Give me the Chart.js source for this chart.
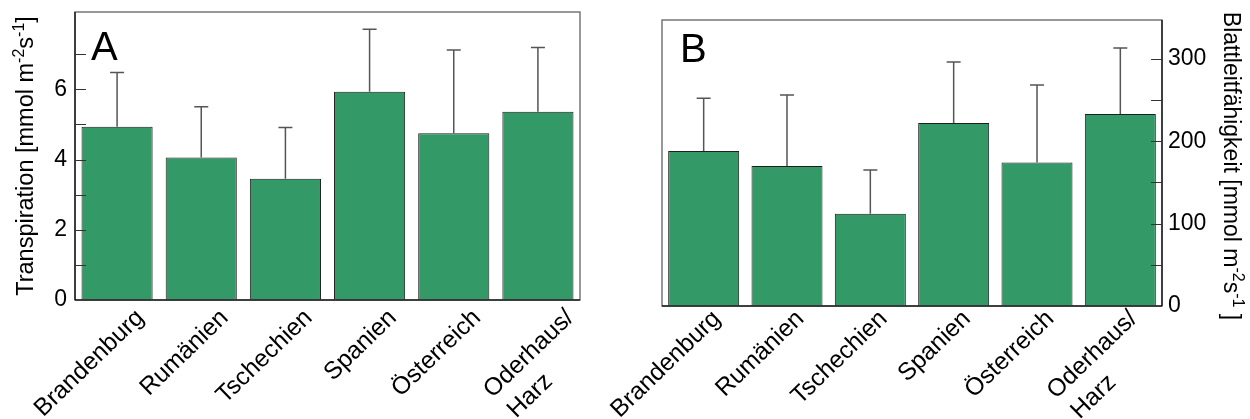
<!DOCTYPE html>
<html>
<head>
<meta charset="utf-8">
<script src="https://cdn.jsdelivr.net/npm/chart.js@4.4.0/dist/chart.umd.min.js"></script>
<style>
  html, body { margin: 0; padding: 0; background: #fff; }
  #wrap { position: relative; width: 1250px; height: 419px; }
  .box { position: absolute; top: 0; height: 419px; }
  #boxA { left: 0; width: 610px; }
  #boxB { left: 600px; width: 650px; }
</style>
</head>
<body>
<div id="wrap">
  <div class="box" id="boxA"><canvas id="chartA" width="610" height="419"></canvas></div>
  <div class="box" id="boxB"><canvas id="chartB" width="650" height="419"></canvas></div>
</div>
<script>
// DATEN
const regionen = ['Brandenburg', 'Rumänien', 'Tschechien', 'Spanien', 'Österreich', ['Oderhaus/', 'Harz']];

// A: Transpiration [mmol m-2 s-1], Mittelwert + Standardabweichung (nur nach oben)
const transpiration = [4.93, 4.06, 3.45, 5.93, 4.75, 5.36];
const transpirationSD = [1.55, 1.44, 1.46, 1.78, 2.37, 1.83];
const ticksA = [0, 2, 4, 6];

// B: Blattleitfähigkeit [mmol m-2 s-1]
const leitfaehigkeit = [188, 170, 112, 222, 174, 233];
const leitfaehigkeitSD = [64, 86, 53, 74, 94, 80];
const ticksB = [0, 100, 200, 300];

const titelA = [['Transpiration [mmol m', false], ['-2', true], ['s', false], ['-1', true], [']', false]];
const titelB = [['Blattleitfähigkeit [mmol m', false], ['-2', true], ['s', false], ['-1', true], [' ]', false]];

const FONT = '"Liberation Sans", Arial, sans-serif';
const GRUEN = '#339966';
const ANGOLO = -44 * Math.PI / 180;

// TESTO CON APICI
function larghezzaRich(ctx, parti, size) {
    let w = 0;
    for (const [t, sup] of parti) {
        ctx.font = `${sup ? Math.round(size * 0.7) : size}px ${FONT}`;
        w += ctx.measureText(t).width;
    }
    return w;
}

function disegnaRich(ctx, parti, size, x, y) {
    ctx.textAlign = 'left';
    ctx.textBaseline = 'alphabetic';
    for (const [t, sup] of parti) {
        ctx.font = `${sup ? Math.round(size * 0.7) : size}px ${FONT}`;
        ctx.fillText(t, x, sup ? y - size * 0.4 : y);
        x += ctx.measureText(t).width;
    }
}

// PLUGIN: cornice, tacche interne, barre di errore, etichette, titoli
function pluginPannello(cfg) {
    return {
        id: 'pannello',
        afterDatasetsDraw(chart) {
            const ctx = chart.ctx;
            const a = chart.chartArea;
            const xs = chart.scales.x, ys = chart.scales.y;
            const meta = chart.getDatasetMeta(0);
            const valori = chart.data.datasets[0].data;

            // barre di errore
            ctx.save();
            ctx.strokeStyle = '#555';
            ctx.lineWidth = 1.5;
            meta.data.forEach((bar, i) => {
                const yTop = ys.getPixelForValue(valori[i] + cfg.sd[i]);
                ctx.beginPath();
                ctx.moveTo(bar.x, bar.y);
                ctx.lineTo(bar.x, yTop);
                ctx.moveTo(bar.x - 7, yTop);
                ctx.lineTo(bar.x + 7, yTop);
                ctx.stroke();
            });
            ctx.restore();

            // cornice
            ctx.save();
            ctx.lineWidth = 1.5;
            ctx.strokeStyle = '#777';
            ctx.strokeRect(a.left, a.top, a.right - a.left, a.bottom - a.top);
            ctx.strokeStyle = '#222';
            ctx.beginPath();
            ctx.moveTo(a.left, a.bottom);
            ctx.lineTo(a.right, a.bottom);
            const xAsse = cfg.destra ? a.right : a.left;
            ctx.moveTo(xAsse, a.top);
            ctx.lineTo(xAsse, a.bottom);
            ctx.stroke();

            // tacche verso l'interno
            ctx.strokeStyle = '#333';
            ctx.lineWidth = 1;
            ys.ticks.forEach(t => {
                if (t.value <= 0 || t.value > cfg.maxTacca) return;
                const y = Math.round(ys.getPixelForValue(t.value)) + 0.5;
                ctx.beginPath();
                ctx.moveTo(xAsse, y);
                ctx.lineTo(cfg.destra ? xAsse - 11 : xAsse + 11, y);
                ctx.stroke();
            });
            ctx.restore();

            // lettera del pannello
            ctx.save();
            ctx.fillStyle = '#000';
            ctx.font = `40px ${FONT}`;
            ctx.textAlign = 'left';
            ctx.textBaseline = 'alphabetic';
            ctx.fillText(cfg.lettera, a.left + cfg.letteraDx, a.top + cfg.letteraDy);
            ctx.restore();

            // etichette delle categorie, ruotate (ancora = fine della linea di base)
            ctx.save();
            ctx.fillStyle = '#000';
            ctx.font = `24.5px ${FONT}`;
            regionen.forEach((lab, i) => {
                const righe = Array.isArray(lab) ? lab : [lab];
                const multi = righe.length > 1;
                const x = xs.getPixelForValue(i) + cfg.labDx + (multi ? cfg.multiDx : 0);
                const y = a.bottom + cfg.labDy + (multi ? cfg.multiDy : 0);
                ctx.save();
                ctx.translate(x, y);
                ctx.rotate(ANGOLO);
                const w0 = ctx.measureText(righe[0]).width;
                ctx.textBaseline = 'alphabetic';
                ctx.textAlign = 'left';
                righe.forEach((r, k) => ctx.fillText(r, -w0 + (k ? 3 : 0), k * 31));
                ctx.restore();
            });
            ctx.restore();

            // titolo dell'asse
            ctx.save();
            ctx.fillStyle = '#000';
            const size = cfg.titoloSize;
            const w = larghezzaRich(ctx, cfg.titolo, size);
            const cy = (a.top + a.bottom) / 2 + cfg.titoloDy;
            ctx.translate(cfg.titoloX, cy);
            ctx.rotate(cfg.destra ? Math.PI / 2 : -Math.PI / 2);
            disegnaRich(ctx, cfg.titolo, size, -w / 2, 8);
            ctx.restore();
        }
    };
}

function creaGrafico(id, valori, cfg) {
    return new Chart(document.getElementById(id), {
        type: 'bar',
        data: {
            labels: regionen,
            datasets: [{
                data: valori,
                backgroundColor: GRUEN,
                borderColor: '#1e1e1e',
                borderWidth: 1,
                barPercentage: cfg.barPct,
                categoryPercentage: 1
            }]
        },
        options: {
            responsive: false,
            animation: false,
            devicePixelRatio: 1,
            layout: { padding: cfg.padding },
            plugins: { legend: { display: false }, tooltip: { enabled: false } },
            scales: {
                x: {
                    grid: { display: false },
                    border: { display: false },
                    ticks: { display: false },
                    afterFit: s => { s.height = cfg.altezzaX; s.paddingLeft = 0; s.paddingRight = 0; }
                },
                y: {
                    position: cfg.destra ? 'right' : 'left',
                    min: 0,
                    max: cfg.max,
                    grid: { display: false, drawTicks: false },
                    border: { display: false },
                    ticks: {
                        stepSize: cfg.passo,
                        autoSkip: false,
                        padding: cfg.padTick,
                        color: '#000',
                        font: { family: FONT, size: 23 },
                        callback: v => cfg.etichette.includes(v) ? String(v) : ''
                    },
                    afterFit: s => { s.width = cfg.larghezzaY; s.paddingTop = 0; s.paddingBottom = 0; }
                }
            }
        },
        plugins: [pluginPannello(cfg)]
    });
}

creaGrafico('chartA', transpiration, {
    sd: transpirationSD, etichette: ticksA, max: 8.2, passo: 1, maxTacca: 7,
    destra: false, padding: { top: 12, right: 30, left: 0, bottom: 0 },
    altezzaX: 119, larghezzaY: 75, padTick: 8, barPct: 0.845,
    lettera: 'A', letteraDx: 16, letteraDy: 48,
    labDx: 28, labDy: 19, multiDx: 9, multiDy: 0,
    titolo: titelA, titoloSize: 23.5, titoloX: 25, titoloDy: 0
});

creaGrafico('chartB', leitfaehigkeit, {
    sd: leitfaehigkeitSD, etichette: ticksB, max: 347, passo: 50, maxTacca: 300,
    destra: true, padding: { top: 20, right: 0, left: 62, bottom: 0 },
    altezzaX: 113, larghezzaY: 88, padTick: 6, barPct: 0.852,
    lettera: 'B', letteraDx: 18, letteraDy: 42,
    labDx: 18, labDy: 14, multiDx: 0, multiDy: 0,
    titolo: titelB, titoloSize: 23, titoloX: 1232 - 600, titoloDy: 3
});
</script>
</body>
</html>
